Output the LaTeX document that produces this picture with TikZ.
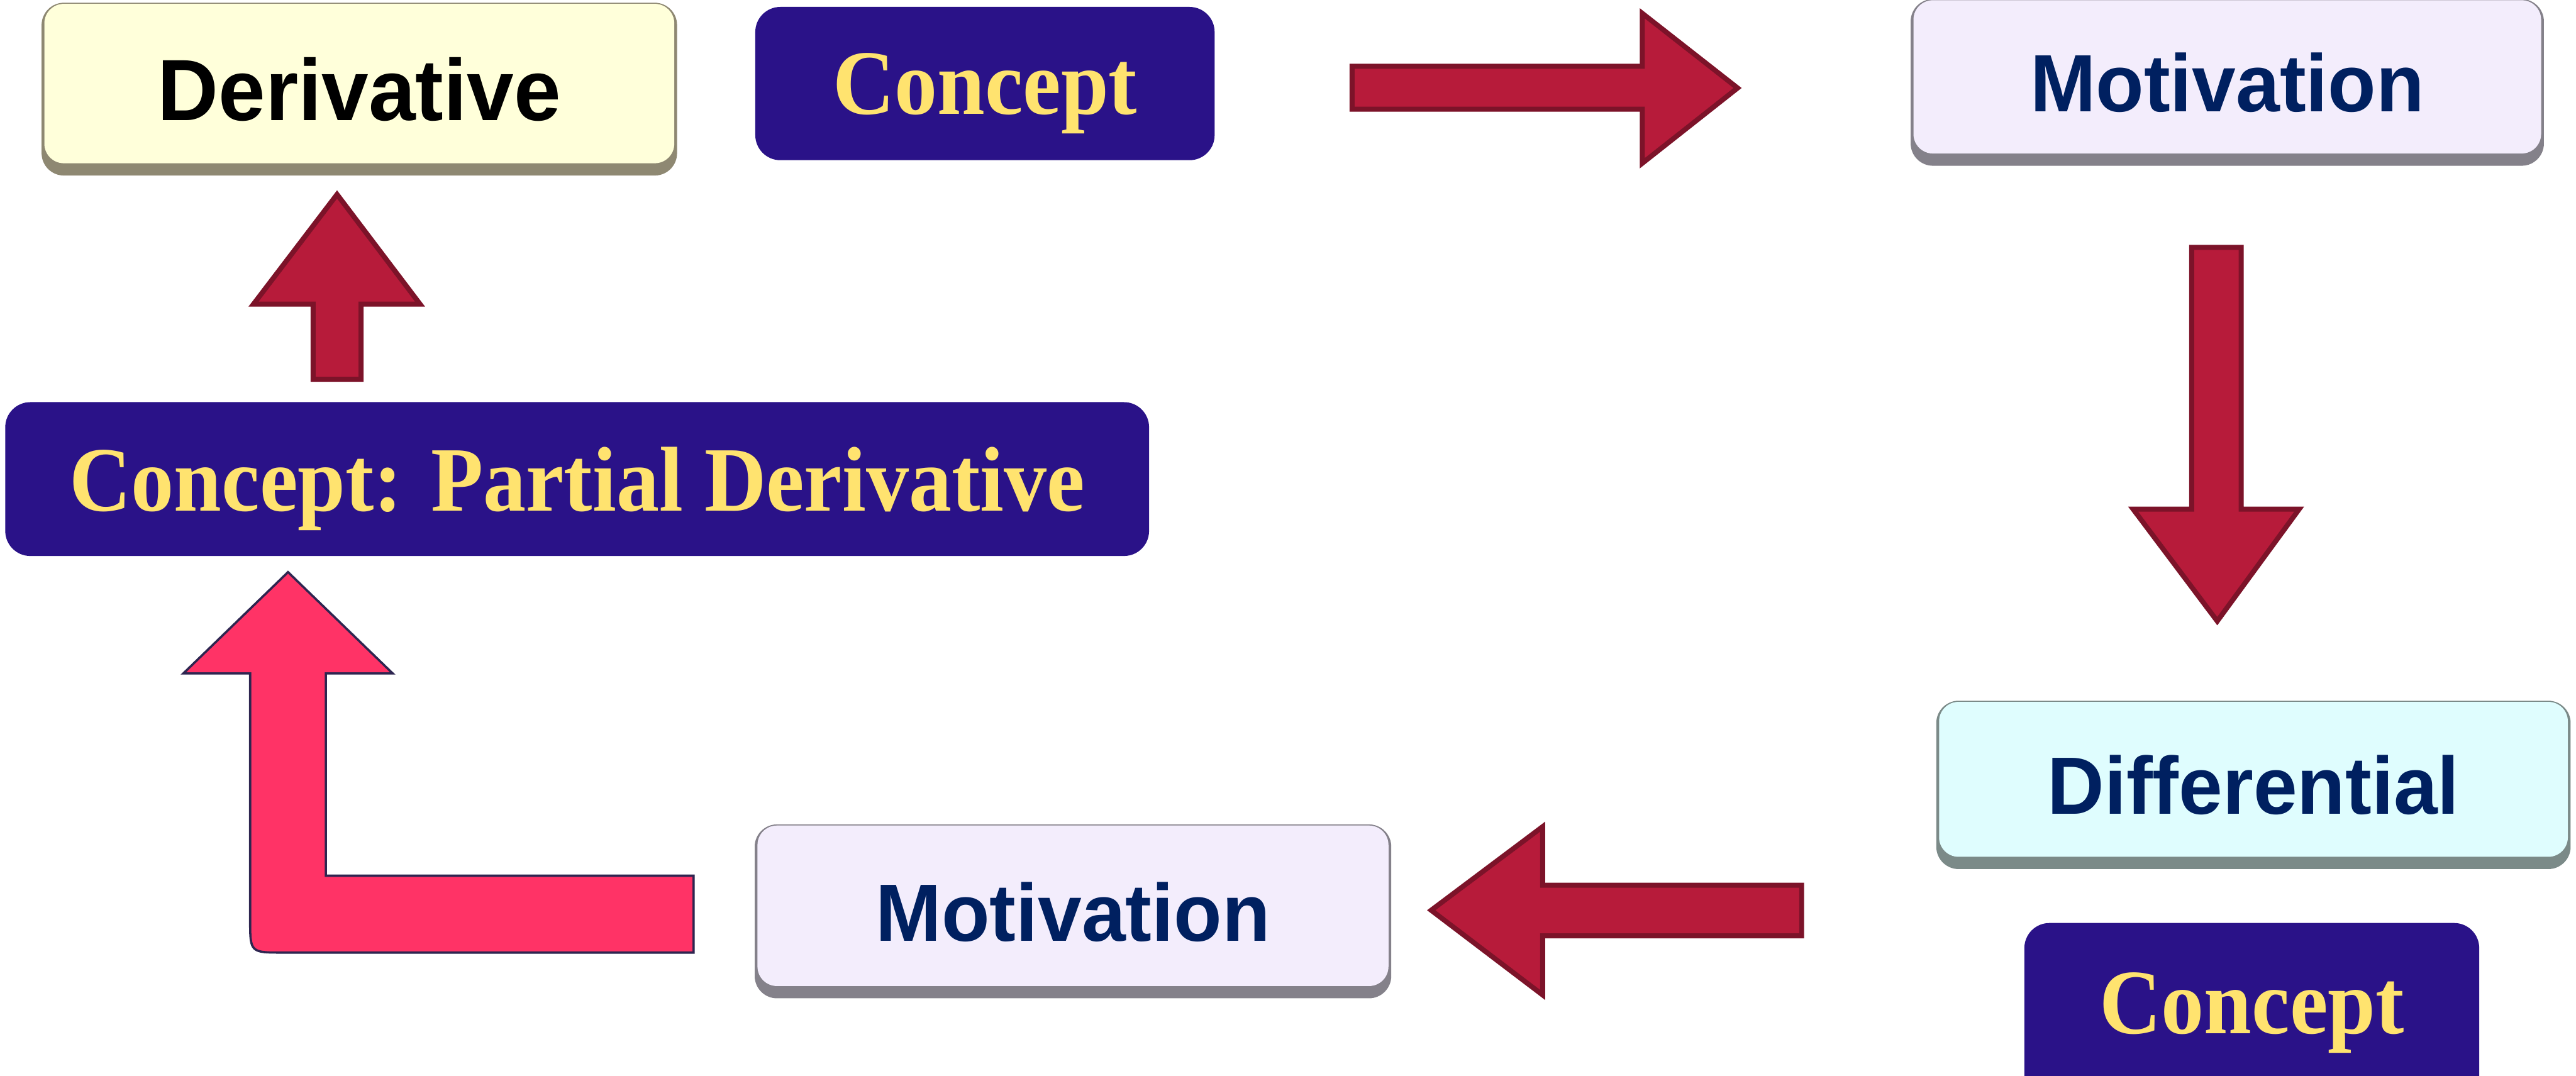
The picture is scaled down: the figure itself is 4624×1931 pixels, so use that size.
\documentclass[tikz,border=0pt]{standalone}
\usepackage{fontspec}
\newfontfamily\boxfont[FakeStretch=0.97]{Liberation Sans}
\newfontfamily\conceptfont[FakeStretch=0.93]{Liberation Serif}

\definecolor{derivface}{HTML}{FFFFDA}
\definecolor{derivedge}{HTML}{8E8872}
\definecolor{motface}{HTML}{F3EDFC}
\definecolor{motedge}{HTML}{84818A}
\definecolor{diffface}{HTML}{DFFDFE}
\definecolor{diffedge}{HTML}{7B8A88}
\definecolor{conceptfill}{HTML}{2A1288}
\definecolor{conceptyellow}{HTML}{FFE36F}
\definecolor{navytext}{HTML}{002060}
\definecolor{arrowred}{HTML}{B71B3A}
\definecolor{arrowdark}{HTML}{7C1329}
\definecolor{arrowpink}{HTML}{FF3366}
\definecolor{pinkedge}{HTML}{2E2550}

\begin{document}
\begin{tikzpicture}[x=0.01cm, y=-0.01cm,
			lightbox/.style 2 args={rounded corners=0.4cm, fill=#2, inner sep=0pt, outer sep=0pt, text depth=0pt,
			    path picture={\fill[#1, rounded corners=0.35cm] ([xshift=0.05cm, yshift=-0.02cm]path picture bounding box.north west)
			        rectangle ([xshift=-0.05cm, yshift=0.22cm]path picture bounding box.south east);}},
			sansbig/.style={font=\boxfont\bfseries\fontsize{#1}{#1}\selectfont},
			conceptbox/.style={fill=conceptfill, rounded corners=0.45cm, inner sep=0pt, outer sep=0pt, text depth=0pt,
			    text=conceptyellow, font=\conceptfont\bfseries\fontsize{47}{50}\selectfont},
			redarrow/.style={fill=arrowred, draw=arrowdark, line width=0.09cm, line join=miter},
			pinkarrow/.style={fill=arrowpink, draw=pinkedge, line width=0.04cm, line join=miter}]

			\useasboundingbox (0,0) rectangle (4624,1931);

			% light boxes
			\node [lightbox={derivface}{derivedge}, minimum width=11.4cm, minimum height=3.1cm, sansbig=44.4, text=black]
			    (deriv) at (645,160) {Derivative};
			\node [lightbox={motface}{motedge}, minimum width=11.36cm, minimum height=2.99cm, sansbig=41.5, text=navytext]
			    (motiv1) at (3998,148) {Motivation};
			\node [lightbox={diffface}{diffedge}, minimum width=11.38cm, minimum height=3.02cm, sansbig=41.5, text=navytext]
			    (diff) at (4045,1409) {Differential};
			\node [lightbox={motface}{motedge}, minimum width=11.42cm, minimum height=3.12cm, sansbig=41.5, text=navytext]
			    (motiv2) at (1926,1636) {Motivation};

			% concept boxes (the last one runs past the bottom edge)
			\node [conceptbox, minimum width=8.24cm, minimum height=2.75cm] (concept1) at (1768,150) {Concept};
			\node [conceptbox, minimum width=20.52cm, minimum height=2.76cm] (partial) at (1036,860) {Concept: Partial Derivative};
			\node [conceptbox, minimum width=8.16cm, minimum height=3.3cm, text height=1.1cm, text depth=0.44cm] (concept2) at (4042,1822) {Concept};

			% red block arrows
			\draw [redarrow] (2427,119) -- (2948,119) -- (2948,24) -- (3119,158) -- (2948,293) -- (2948,196) -- (2427,196) -- cycle;
			\draw [redarrow] (3934,444) -- (4023,444) -- (4023,914) -- (4127,914) -- (3980,1115) -- (3829,914) -- (3934,914) -- cycle;
			\draw [redarrow] (3234,1589) -- (2769,1589) -- (2769,1484) -- (2569,1634) -- (2769,1786) -- (2769,1680) -- (3234,1680) -- cycle;
			\draw [redarrow] (562,681) -- (562,546) -- (455,546) -- (605,349) -- (754,546) -- (648,546) -- (648,681) -- cycle;

			% bent pink arrow
			\draw [pinkarrow] (517,1027) -- (705,1209) -- (585,1209) -- (585,1572) -- (1245,1572) -- (1245,1710) -- (508,1710)
			    .. controls (449,1710) .. (449,1651) -- (449,1209) -- (329,1209) -- cycle;
		\end{tikzpicture}
\end{document}
